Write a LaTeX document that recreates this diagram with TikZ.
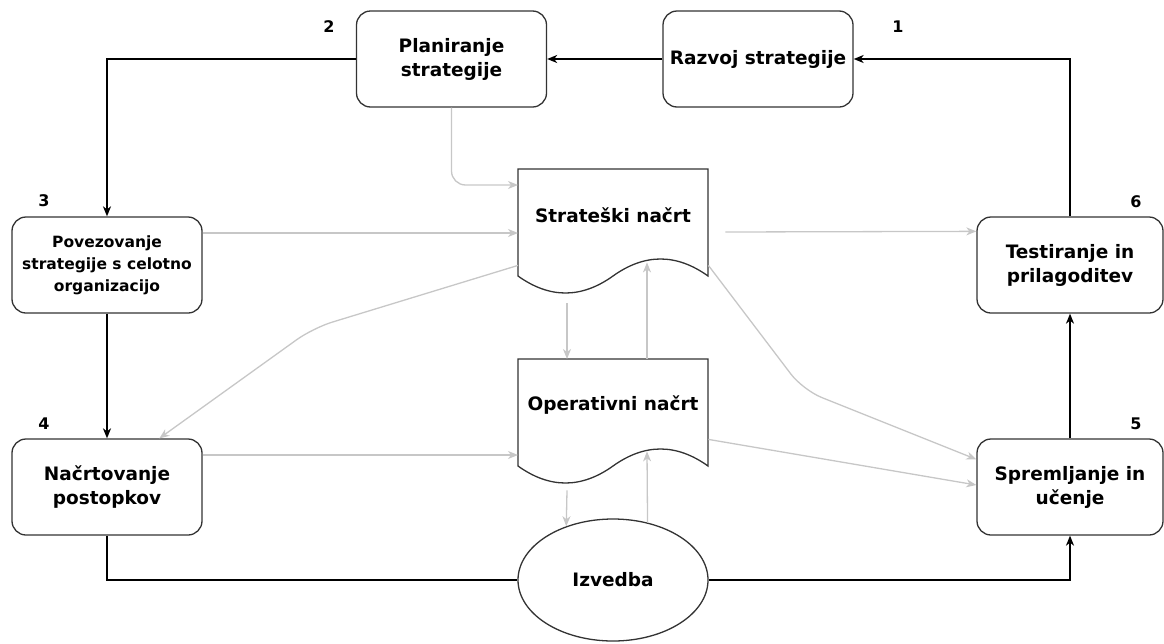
\documentclass[tikz,border=0pt]{standalone}
\usepackage{fontspec}
\setmainfont{DejaVu Sans}
\usetikzlibrary{arrows.meta,calc,shapes.geometric}
\tikzset{
  box/.style={draw=black!80, line width=1.3pt, rounded corners=14pt, fill=white,
    minimum width=190pt, minimum height=96pt, align=center, inner sep=2pt,
    font=\bfseries\fontsize{18.5}{24}\selectfont},
  smallbox/.style={box, font=\bfseries\fontsize{15.5}{22}\selectfont},
  doctext/.style={font=\bfseries\fontsize{18.5}{24}\selectfont, inner sep=0pt},
  docarea/.style={draw=none, minimum width=190pt, minimum height=107pt, anchor=north west, inner sep=0pt},
  docline/.style={draw=black!80, line width=1.3pt, fill=white},
  num/.style={font=\bfseries\fontsize{16}{18}\selectfont, inner sep=0pt},
  blk/.style={draw=black, line width=1.5pt, -{Stealth[length=10pt,width=8pt,inset=3pt]}},
  blkn/.style={draw=black, line width=1.5pt},
  gry/.style={draw=black!22, line width=1.3pt, -{Stealth[length=10pt,width=8pt,inset=3pt]}},
}
\newcommand{\docpath}[2]{%
  \path[docline] (#1,#2) -- ++(190,0) -- ++(0,107)
    .. controls ++(-31.67,-22.67) and ++(31.67,-22.67) .. ++(-95,0)
    .. controls ++(-31.67,22.67) and ++(31.67,22.67) .. ++(-95,0) -- cycle;}
\begin{document}
\begin{tikzpicture}[x=1pt,y=-1pt]
\useasboundingbox (0,0) rectangle (1164,643);
% boxes
\node[box] (pl) at (451.5,59) {Planiranje\\strategije};
\node[box] (rz) at (758,59) {Razvoj strategije};
\node[smallbox] (pv) at (107,265) {Povezovanje\\strategije s celotno\\organizacijo};
\node[box] (nc) at (107,487) {Načrtovanje\\postopkov};
\node[box, minimum width=186pt] (tst) at (1070,265) {Testiranje in\\prilagoditev};
\node[box, minimum width=186pt] (sp) at (1070,487) {Spremljanje in\\učenje};
% documents
\docpath{518}{169}
\node[docarea] (sn) at (518,169) {};
\node[doctext] (snt) at (613,215) {Strateški načrt};
\docpath{518}{359}
\node[docarea] (on) at (518,359) {};
\node[doctext] (ont) at (613,405) {Operativni načrt};
% ellipse
\node[ellipse, draw=black!80, line width=1.3pt, minimum width=190pt, minimum height=122pt, inner sep=0pt,
  font=\bfseries\fontsize{18.5}{24}\selectfont] (iz) at (613,580) {Izvedba};
% numbers
\node[num] (n1) at (898,27) {1};
\node[num] (n2) at (329,27) {2};
\node[num] (n3) at (44,201) {3};
\node[num] (n4) at (44,424) {4};
\node[num] (n5) at (1136,424) {5};
\node[num] (n6) at (1136,202) {6};
% black connectors
\draw[blk] (tst.north) |- (rz.east);
\draw[blk] (rz.west) -- (pl.east);
\draw[blk] (pl.west) -| (pv.north);
\draw[blk] (pv.south) -- (nc.north);
\draw[blkn] (nc.south) |- (iz.west);
\draw[blk] (iz.east) -| (sp.south);
\draw[blk] (sp.north) -- (tst.south);
% gray connectors
\draw[gry, rounded corners=14pt] (pl.south) |- ($(sn.north west)+(0,16)$);
\draw[gry] ([yshift=32pt]pv.east) -- ([yshift=32pt]pv.east -| sn.west);
\draw[gry] ($(sn.north east)+(17,63)$) -- ($(tst.north west)+(0,15)$);
\draw[gry, rounded corners=20pt] ($(sn.south west)+(0,-11)$) -- (313,328) -- ($(nc.north west)+(148,0)$);
\draw[gry] ($(sn.south west)+(49,27)$) -- ($(on.north west)+(49,0)$);
\draw[gry] ($(on.north west)+(129,0)$) -- ($(sn.south west)+(129,-14)$);
\draw[gry, rounded corners=20pt] ($(sn.south east)+(0,-11)$) -- (803,390) -- ($(sp.north west)+(0,21)$);
\draw[gry] ([yshift=32pt]nc.east) -- ([yshift=32pt]nc.east -| on.west);
\draw[gry] ($(on.south east)+(0,-27)$) -- ($(sp.west)+(0,-2)$);
\draw[gry] ($(on.south west)+(49,24)$) -- (iz.131);
\draw[gry] (iz.59) -- ($(on.south west)+(129,-15)$);
\end{tikzpicture}
\end{document}
